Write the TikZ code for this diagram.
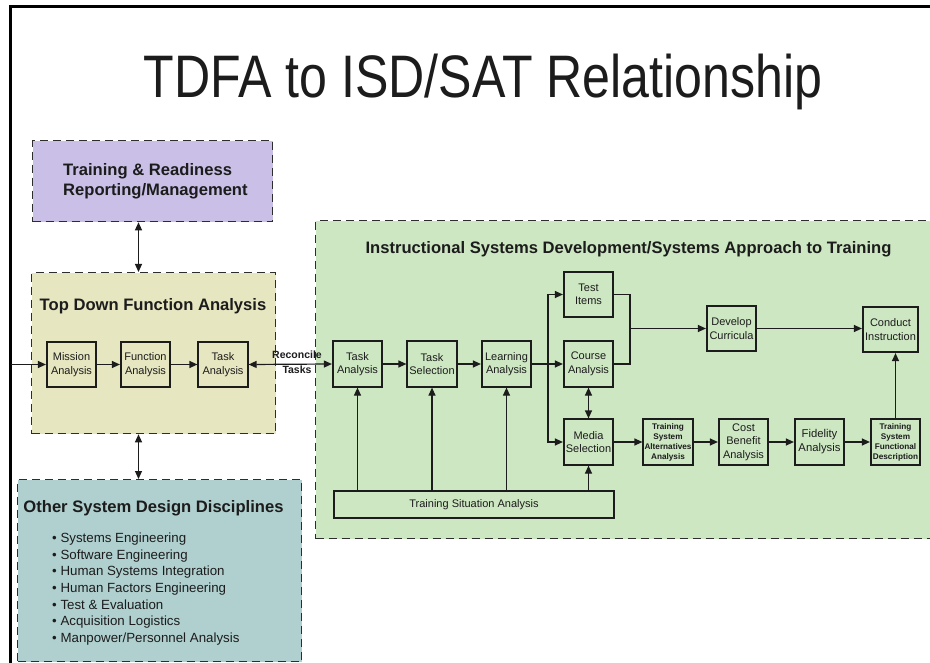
\documentclass[tikz,border=0pt]{standalone}
\usepackage{fontspec}
\setmainfont{Liberation Sans}
\usetikzlibrary{arrows.meta}

\definecolor{inkc}{RGB}{28,28,28}
\definecolor{dashc}{RGB}{45,45,45}
\definecolor{trmfill}{RGB}{202,192,231}
\definecolor{tdfafill}{RGB}{230,230,193}
\definecolor{isdfill}{RGB}{205,231,194}
\definecolor{osdfill}{RGB}{176,207,207}

\tikzset{
  region/.style={draw=dashc, line width=1.3pt, dash pattern=on 8pt off 5pt,
    inner sep=0pt, anchor=north west},
  stepbox/.style={draw=inkc, line width=1.7pt, minimum width=49.5pt,
    minimum height=45.5pt, inner sep=1pt, align=center, text=inkc,
    font=\fontsize{11}{13.5}\selectfont},
  smallbold/.style={font=\fontsize{8.2}{10}\selectfont\bfseries},
  heading/.style={text=inkc, font=\fontsize{16.6}{20}\selectfont\bfseries, inner sep=0pt},
  arr/.style={draw=inkc, line width=1.2pt, -{Triangle[length=8pt,width=7pt]}},
  dbl/.style={draw=inkc, line width=1.2pt,
    {Triangle[length=8pt,width=7pt]}-{Triangle[length=8pt,width=7pt]}},
  link/.style={draw=inkc, line width=1.2pt},
}

\begin{document}
\begin{tikzpicture}[x=1pt,y=-1pt]
\useasboundingbox (0,0) rectangle (930,663);
\clip (0,0) rectangle (930,663);
\fill[white] (0,0) rectangle (930,663);

% slide frame
\draw[line width=3pt, black] (10.5,700) -- (10.5,6.5) -- (940,6.5);

% title
\node[anchor=base, inner sep=0pt, text=inkc, font=\fontsize{60}{60}\selectfont]
  (title) at (483,98) {\scalebox{0.835}[1]{TDFA to ISD/SAT Relationship}};

% grouping regions
\node[region, fill=trmfill, minimum width=240pt, minimum height=81pt] (trm) at (32,140) {};
\node[region, fill=tdfafill, minimum width=244pt, minimum height=161pt] (tdfa) at (31,272) {};
\node[region, fill=osdfill, minimum width=284pt, minimum height=182pt] (osd) at (17,479) {};
\node[region, fill=isdfill, minimum width=640pt, minimum height=318pt] (isd) at (315,220) {};

% region headings
\node[heading, align=left, anchor=west] (trmtitle) at (63,181.5)
  {Training \& Readiness\\Reporting/Management};
\node[heading, anchor=base] (tdfatitle) at (153,311) {Top Down Function Analysis};
\node[heading, anchor=base] (osdtitle) at (153.5,512) {Other System Design Disciplines};
\node[heading, anchor=base] (isdtitle) at (628.5,254)
  {Instructional Systems Development/Systems Approach to Training};

% discipline list
\node[anchor=north west, align=left, inner sep=0pt, text=inkc,
      font=\fontsize{13.3}{16.7}\selectfont] (osdlist) at (52,532.5)
  {\textbullet\ Systems Engineering\\
   \textbullet\ Software Engineering\\
   \textbullet\ Human Systems Integration\\
   \textbullet\ Human Factors Engineering\\
   \textbullet\ Test \& Evaluation\\
   \textbullet\ Acquisition Logistics\\
   \textbullet\ Manpower/Personnel Analysis};

% top down function analysis steps
\node[stepbox] (ma)  at (71.5,364.5) {Mission\\Analysis};
\node[stepbox] (fa)  at (145.5,364.5) {Function\\Analysis};
\node[stepbox] (ta1) at (223,364.5) {Task\\Analysis};

% ISD/SAT steps
\node[stepbox] (ta2) at (357.5,364) {Task\\Analysis};
\node[stepbox] (ts)  at (432,364) {Task\\Selection};
\node[stepbox] (la)  at (506.5,364) {Learning\\Analysis};
\node[stepbox] (ti)  at (588.5,294.5) {Test\\Items};
\node[stepbox] (ca)  at (588.5,364) {Course\\Analysis};
\node[stepbox] (ms)  at (588.5,442) {Media\\Selection};
\node[stepbox] (dc)  at (731.5,328.5) {Develop\\Curricula};
\node[stepbox, minimum width=55.5pt] (ci) at (890.5,329.5) {Conduct\\Instruction};
\node[stepbox, smallbold] (tsaa) at (668,442) {Training\\System\\Alternatives\\Analysis};
\node[stepbox] (cb)  at (743.5,442) {Cost\\Benefit\\Analysis};
\node[stepbox, font=\fontsize{11.3}{14}\selectfont] (fid) at (819.5,442) {Fidelity\\Analysis};
\node[stepbox, smallbold] (tsfd) at (895.5,442) {Training\\System\\Functional\\Description};
\node[stepbox, minimum width=280.5pt, minimum height=27.5pt] (tsa) at (474,504.5)
  {Training Situation Analysis};

% helper points
\coordinate (vx) at (138.5,0);
\coordinate (lf) at (10.5,364.5);
\coordinate (split) at (548,364);
\coordinate (jn) at (630,328.5);

% links between regions
\draw[dbl] (trm.south -| vx) -- (tdfa.north -| vx);
\draw[dbl] (tdfa.south -| vx) -- (osd.north -| vx);

% top down function analysis flow
\draw[arr] (lf) -- (ma.west);
\draw[arr] (ma) -- (fa);
\draw[arr] (fa) -- (ta1);
\draw[dbl] (ta1.east) -- (ta2.west);
\node[align=center, inner sep=0pt, text=inkc,
      font=\fontsize{10.5}{15}\selectfont\bfseries] (rec) at (297,362.5) {Reconcile\\Tasks};

% ISD/SAT flow
\draw[arr] (ta2) -- (ts);
\draw[arr] (ts) -- (la);
\draw[arr] (la.east) -- (ca.west);
\draw[arr] (split) |- (ti.west);
\draw[arr] (split) |- (ms.west);
\draw[link] (ti.east) -| (jn) |- (ca.east);
\draw[arr] (jn) -- (dc.west);
\draw[arr] (dc.east) -- (dc.east -| ci.west);
\draw[dbl] (ca.south) -- (ms.north);
\draw[arr] (ms) -- (tsaa);
\draw[arr] (tsaa) -- (cb);
\draw[arr] (cb) -- (fid);
\draw[arr] (fid) -- (tsfd);
\draw[arr] (tsfd.north) -- (tsfd.north |- ci.south);

% situation analysis feeds
\draw[arr] (tsa.north -| ta2) -- (ta2.south);
\draw[arr] (tsa.north -| ts) -- (ts.south);
\draw[arr] (tsa.north -| la) -- (la.south);
\draw[arr] (tsa.north -| ms) -- (ms.south);
\end{tikzpicture}
\end{document}
